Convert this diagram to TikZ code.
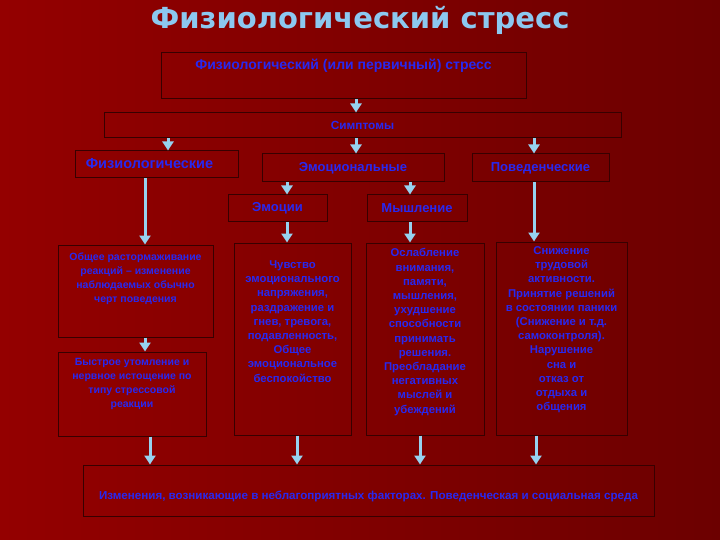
\documentclass[tikz,border=0pt]{standalone}
\usepackage{fontspec}
\setmainfont{Liberation Sans}
\newfontfamily\titlefont{DejaVu Sans}
\usetikzlibrary{arrows.meta,calc}
\definecolor{txtblue}{RGB}{40,40,240}
\definecolor{arrblue}{RGB}{150,210,240}
\definecolor{bord}{RGB}{55,0,0}
\definecolor{bgA}{RGB}{148,0,0}
\definecolor{bgB}{RGB}{108,0,0}
\definecolor{ttl}{RGB}{140,200,240}
\begin{document}
\begin{tikzpicture}[x=1pt,y=-1pt,
  box/.style={draw=bord,line width=1pt,inner sep=0pt},
  lbl/.style={box,text=txtblue,font=\bfseries\fontsize{13}{15}\selectfont},
  txt/.style={text=txtblue,font=\bfseries\fontsize{11.3}{14.2}\selectfont,align=center,inner sep=0pt,anchor=north},
  smalltxt/.style={txt,font=\bfseries\fontsize{10.5}{14}\selectfont},
  arr/.style={arrblue,line width=3pt,-{Triangle[width=11pt,length=9pt]}}]
\useasboundingbox (0,0) rectangle (720,540);
\shade[left color=bgA, right color=bgB] (0,0) rectangle (720,540);

\node[text=ttl,font=\titlefont\bfseries\fontsize{29}{32}\selectfont] (title) at (360,20) {Физиологический стресс};

\node[box,minimum width=365pt,minimum height=46pt,
  label={[txt,font=\bfseries\fontsize{14}{16}\selectfont,yshift=-6pt]north:{Физиологический (или первичный) стресс}}] (top) at (343.5,76) {};
\node[lbl,font=\bfseries\fontsize{11.8}{14}\selectfont,minimum width=517pt,minimum height=25pt] (simp) at (362.5,125.5) {Симптомы};
\node[box,minimum width=163pt,minimum height=27pt,
  label={[txt,anchor=center,font=\bfseries\fontsize{14.5}{16}\selectfont,xshift=-7pt,yshift=1pt]center:{Физиологические}}] (fiz) at (156.5,164.5) {};
\node[lbl,minimum width=182pt,minimum height=28pt] (emo) at (353,168) {Эмоциональные};
\node[lbl,minimum width=137pt,minimum height=28pt] (beh) at (540.5,168) {Поведенческие};
\node[lbl,minimum width=99pt,minimum height=27pt] (emot) at (277.5,208.5) {Эмоции};
\node[lbl,minimum width=100pt,minimum height=27pt] (mysh) at (417,208.5) {Мышление};

\node[box,minimum width=155pt,minimum height=92pt,
  label={[smalltxt,yshift=-8pt]north:{Общее растормаживание\\реакций – изменение\\наблюдаемых обычно\\черт поведения}}] (l1) at (135.5,291) {};
\node[box,minimum width=148pt,minimum height=84pt,
  label={[smalltxt,yshift=-7pt]north:{Быстрое утомление и\\нервное истощение по\\типу стрессовой\\реакции}}] (l2) at (132,394) {};
\node[box,minimum width=117pt,minimum height=192pt,
  label={[txt,yshift=-18pt]north:{Чувство\\эмоционального\\напряжения,\\раздражение и\\гнев, тревога,\\подавленность,\\Общее\\эмоциональное\\беспокойство}}] (e) at (292.5,339) {};
\node[box,minimum width=118pt,minimum height=192pt,
  label={[txt,yshift=-6pt]north:{Ослабление\\внимания,\\памяти,\\мышления,\\ухудшение\\способности\\принимать\\решения.\\Преобладание\\негативных\\мыслей и\\убеждений}}] (m) at (425,339) {};
\node[box,minimum width=131pt,minimum height=193pt,
  label={[txt,yshift=-5pt]north:{Снижение\\трудовой\\активности.\\Принятие решений\\в состоянии паники\\(Снижение и т.д.\\самоконтроля).\\Нарушение\\сна и\\отказ от\\отдыха и\\общения}}] (p) at (561.5,338.5) {};

\node[box,minimum width=571pt,minimum height=51pt,
  label={[txt,anchor=center,font=\bfseries\fontsize{11.6}{13}\selectfont,yshift=-6pt]center:{Изменения, возникающие в неблагоприятных факторах. Поведенческая и социальная среда}}] (bot) at (368.5,490.5) {};

\coordinate (x145) at (145,0);
\coordinate (x150) at (150,0);
\coordinate (x168) at (168,0);
\coordinate (x287) at (287,0);
\coordinate (x297) at (297,0);
\coordinate (x356) at (356,0);
\coordinate (x410) at (410,0);
\coordinate (x420) at (420,0);
\coordinate (x534) at (534,0);
\coordinate (x536) at (536,0);

\draw[arr] (top.south -| x356) -- (simp.north -| x356);
\draw[arr] (simp.south -| x168) -- (fiz.north -| x168);
\draw[arr] (simp.south -| x356) -- (emo.north -| x356);
\draw[arr] (simp.south -| x534) -- (beh.north -| x534);
\draw[arr] (emo.south -| x287) -- (emot.north -| x287);
\draw[arr] (emo.south -| x410) -- (mysh.north -| x410);
\draw[arr] (fiz.south -| x145) -- (l1.north -| x145);
\draw[arr] (l1.south -| x145) -- (l2.north -| x145);
\draw[arr] (emot.south -| x287) -- (e.north -| x287);
\draw[arr] (mysh.south -| x410) -- (m.north -| x410);
\draw[arr] (beh.south -| x534) -- (p.north -| x534);
\draw[arr] (l2.south -| x150) -- (bot.north -| x150);
\draw[arr] (e.south -| x297) -- (bot.north -| x297);
\draw[arr] (m.south -| x420) -- (bot.north -| x420);
\draw[arr] (p.south -| x536) -- (bot.north -| x536);
\end{tikzpicture}
\end{document}
